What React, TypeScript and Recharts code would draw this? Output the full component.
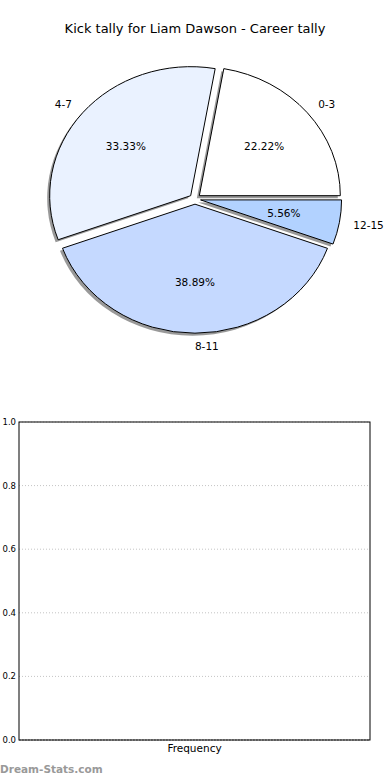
import * as R from "recharts";
import { Bar, BarChart, CartesianGrid, Pie, PieChart, XAxis, YAxis } from "recharts";

const tallyBuckets = ["0-3", "4-7", "8-11", "12-15"];
const tallyShares = [22.22, 33.33, 38.89, 5.56];
const sliceColors = ["#ffffff", "#eaf2ff", "#c5d9ff", "#b2d2ff"];

const frequencyCategories = ["Frequency"];
const frequencyValues = [0];
const yTicks = [0, 0.2, 0.4, 0.6, 0.8, 1.0];

const pieData = tallyBuckets.map((name, i) => ({ name, value: tallyShares[i], color: sliceColors[i] }));
const barData = frequencyCategories.map((name, i) => ({ name, value: frequencyValues[i] }));

const FONT = "'DejaVu Sans', sans-serif";
const SQUASH = 0.915; // matplotlib pie drawn on non-square axes
const EXPLODE = 0.04;
const RAD = Math.PI / 180;

const usePlotArea: () => any = (R as any).usePlotArea || (() => null);

function wedgePath(p: any, dx = 0, dy = 0) {
  const rx = p.outerRadius;
  const ry = rx * SQUASH;
  const d = EXPLODE * rx;
  const cx = p.cx + d * Math.cos(-p.midAngle * RAD) + dx;
  const cy = p.cy + d * Math.sin(-p.midAngle * RAD) * SQUASH + dy;
  const a0 = p.startAngle * RAD;
  const a1 = p.endAngle * RAD;
  const x0 = cx + rx * Math.cos(a0);
  const y0 = cy - ry * Math.sin(a0);
  const x1 = cx + rx * Math.cos(a1);
  const y1 = cy - ry * Math.sin(a1);
  const large = Math.abs(p.endAngle - p.startAngle) > 180 ? 1 : 0;
  return `M${cx},${cy} L${x0},${y0} A${rx},${ry} 0 ${large} 0 ${x1},${y1} Z`;
}

function ShadowWedge(p: any) {
  return <path d={wedgePath(p, -2.5, 2.5)} fill="#555" fillOpacity={0.6} stroke="none" />;
}

function Wedge(p: any) {
  return <path d={wedgePath(p)} fill={p.payload.color} stroke="#000" strokeWidth={1} />;
}

function WedgeLabels(p: any) {
  const rx = p.outerRadius;
  const ry = rx * SQUASH;
  const d = EXPLODE * rx;
  const cos = Math.cos(-p.midAngle * RAD);
  const sin = Math.sin(-p.midAngle * RAD);
  const cx = p.cx + d * cos;
  const cy = p.cy + d * sin * SQUASH;
  const outX = cx + 1.1 * rx * cos;
  const outY = cy + 1.1 * ry * sin;
  const inX = cx + 0.6 * rx * cos;
  const inY = cy + 0.6 * ry * sin;
  return (
    <g fontFamily={FONT} fontSize={10.5} fill="#000">
      <text x={outX} y={outY} textAnchor={cos < -0.01 ? "end" : "start"} dominantBaseline="central">
        {p.payload.name}
      </text>
      <text x={inX} y={inY} textAnchor="middle" dominantBaseline="central">
        {p.payload.value.toFixed(2)}%
      </text>
    </g>
  );
}

// black frame round the plot area, like matplotlib's spines
function PlotFrame() {
  const area = usePlotArea();
  if (!area) return null;
  return <rect x={area.x} y={area.y} width={area.width} height={area.height} fill="none" stroke="#000" strokeWidth={1} />;
}

export default function App() {
  return (
    <div style={{ position: "absolute", left: 0, top: 0, width: 390, height: 780, background: "#fff", fontFamily: FONT }}>
      <div style={{ position: "absolute", top: 21, width: 390, textAlign: "center", fontSize: 13 }}>
        Kick tally for Liam Dawson - Career tally
      </div>
      <div style={{ position: "absolute", top: 0, left: 0 }}>
        <PieChart width={390} height={380} margin={{ top: 0, right: 0, bottom: 0, left: 0 }}>
          <Pie
            data={pieData}
            dataKey="value"
            cx={195}
            cy={199}
            outerRadius={141}
            startAngle={0}
            endAngle={360}
            shape={ShadowWedge}
            isAnimationActive={false}
          />
          <Pie
            data={pieData}
            dataKey="value"
            cx={195}
            cy={199}
            outerRadius={141}
            startAngle={0}
            endAngle={360}
            shape={Wedge}
            label={WedgeLabels}
            labelLine={false}
            isAnimationActive={false}
          />
        </PieChart>
      </div>
      <div style={{ position: "absolute", top: 400, left: 0 }}>
        <BarChart width={390} height={380} data={barData} margin={{ top: 22, right: 20, bottom: 20, left: 0 }}>
          <CartesianGrid vertical={false} stroke="#c4c4c4" strokeDasharray="1 2" />
          <XAxis
            dataKey="name"
            tick={false}
            tickLine={false}
            axisLine={{ stroke: "#444", strokeDasharray: "2 1" }}
            height={20}
            label={{ value: "Frequency", position: "insideBottom", offset: 8, fontSize: 10.5, fill: "#000", fontFamily: FONT }}
          />
          <YAxis
            domain={[0, 1]}
            ticks={yTicks}
            tickFormatter={(v: number) => v.toFixed(1)}
            width={19}
            tick={{ fontSize: 8.5, fill: "#000", fontFamily: FONT }}
            tickSize={0}
            tickMargin={3}
            axisLine={false}
          />
          <Bar dataKey="value" fill="#c5d9ff" isAnimationActive={false} />
          <PlotFrame />
        </BarChart>
      </div>
      <div style={{ position: "absolute", left: 0, top: 763, fontSize: 10.5, fontWeight: "bold", color: "#999" }}>
        Dream-Stats.com
      </div>
    </div>
  );
}
